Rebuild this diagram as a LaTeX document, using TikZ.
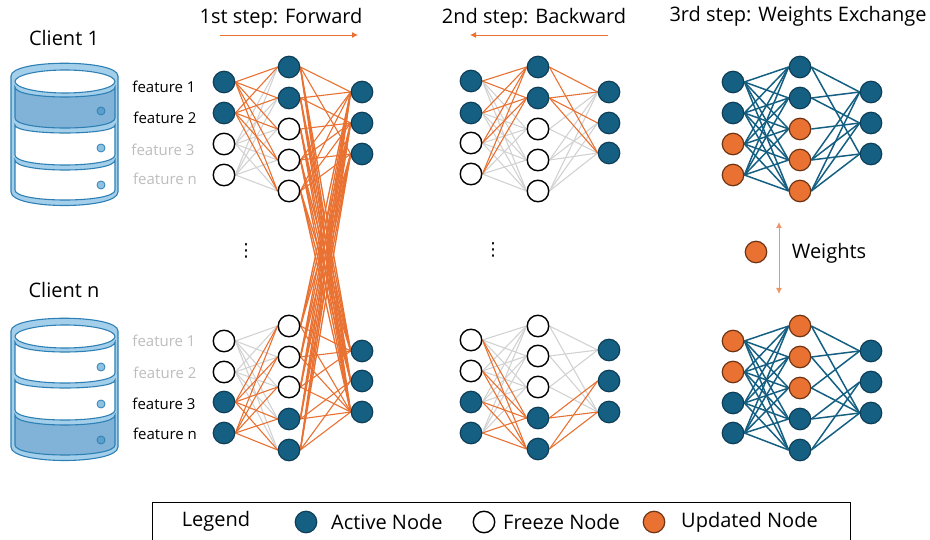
\documentclass[tikz,border=0pt]{standalone}
\usepackage{fontspec}
\setmainfont{Open Sans}
\newfontfamily\dejavu{DejaVu Sans}
\usetikzlibrary{arrows.meta}
\pgfdeclarelayer{edgelayer}
\pgfsetlayers{edgelayer,main}
\definecolor{teal1}{HTML}{156082}
\definecolor{tealdark}{HTML}{0F3F58}
\definecolor{orng}{HTML}{E97132}
\definecolor{orngdark}{HTML}{6E3414}
\definecolor{gry}{HTML}{D2D2D2}
\definecolor{lbl}{HTML}{BDBDBD}
\definecolor{cborder}{HTML}{2E80B4}
\definecolor{cband}{HTML}{A3CFEB}
\definecolor{cfill}{HTML}{80B3D7}
\definecolor{cdot}{HTML}{8DC2E3}
\definecolor{cdotd}{HTML}{5C9FCC}
\tikzset{
  nodebase/.style={circle,minimum size=21.5pt,inner sep=0pt,line width=1.2pt},
  act/.style={nodebase,draw=tealdark,fill=teal1},
  frz/.style={nodebase,draw=black,fill=white,line width=1.4pt},
  upd/.style={nodebase,draw=orngdark,fill=orng},
  og/.style={draw=orng,line width=1.1pt},
  ogx/.style={draw=orng,line width=1.35pt},
  gy/.style={draw=gry,line width=1.1pt},
  tl/.style={draw=teal1,line width=1.5pt},
  title/.style={font=\fontsize{20}{24}\selectfont,text=black,inner sep=0pt},
  feat/.style={font=\fontsize{15}{18}\selectfont,text=black,inner sep=0pt},
  featg/.style={feat,text=lbl},
  stepar/.style={draw=orng,line width=0.9pt,-{Latex[length=6pt,width=6pt]}},
  wgtar/.style={draw=orng!75!white,line width=1pt,{Latex[length=6pt,width=6pt]}-{Latex[length=6pt,width=6pt]}},
  cyledge/.style={draw=cborder,line width=1.1pt},
  cdotst/.style={circle,minimum size=8pt,inner sep=0pt,draw=cborder,line width=0.8pt,fill=cdot},
  cdotfi/.style={cdotst,fill=cdotd},
  vd/.style={font=\dejavu\fontsize{18}{20}\selectfont,inner sep=0pt},
}
% a net: name, three x, three lists y/style
\newcommand\netw[7]{%
  \foreach \i/\yy/\st in {#5}{\node[\st] (#1a\i) at (#2,\yy) {};}
  \foreach \i/\yy/\st in {#6}{\node[\st] (#1b\i) at (#3,\yy) {};}
  \foreach \i/\yy/\st in {#7}{\node[\st] (#1c\i) at (#4,\yy) {};}
}
\newcommand\links[5]{\foreach \p in {#2}{\foreach \q in {#4}{\draw[#5] (#1\p.east) -- (#3\q.west);}}}
\newcommand\pairs[4]{\foreach \p/\q in #3{\draw[#4] (#1\p.east) -- (#2\q.west);}}
\newcommand\cylbody[2]{%
 \begin{scope}[shift={(0,#1)}]
  \path[cyledge,fill=cband] (11,76) .. controls (11,59) and (118,59) .. (118,76) -- (118,192) .. controls (118,210) and (11,210) .. (11,192) -- cycle;
  \foreach \n/\ta/\tb/\ba/\bb in {1/87/97/118/128,2/125/133/155/165,3/160/170/190/200}{
    \pgfmathsetmacro\cta{\ta+(\tb-\ta)*4/3}
    \pgfmathsetmacro\cba{\ba+(\bb-\ba)*4/3}
    \ifnum\n=#2\def\pf{cfill}\else\def\pf{white}\fi
    \path[cyledge,fill=\pf] (15,\ta) .. controls (15,\cta) and (115,\cta) .. (115,\ta) -- (115,\ba) .. controls (115,\cba) and (15,\cba) .. (15,\ba) -- cycle;
  }
  \path[cyledge,fill=white] (65,81.5) ellipse [x radius=50,y radius=11.5];
 \end{scope}}
\def\toppairs{1/1,1/3,2/1,2/2,3/2,4/1,4/2,4/3,5/1,5/2,5/3}
\def\botpairs{1/1,1/3,2/1,2/3,3/1,3/3,4/2,4/3,5/2,5/3}
\def\cgrey{3/1,3/3,4/1,4/2,4/3,5/1,5/2,5/3}
\def\corng{1/1,1/3,2/1,2/2,2/3}
\def\dgrey{1/1,1/3,2/1,2/3,3/1,3/3}
\def\dorng{4/2,4/3,5/2,5/3}
\begin{document}
\begin{tikzpicture}[x=1pt,y=-1pt]
\useasboundingbox (0,0) rectangle (930,540);
% clients
\cylbody{0}{1}
\cylbody{255}{3}
\node[cdotfi] (d11) at (101,111) {};
\node[cdotst] (d12) at (101,148) {};
\node[cdotst] (d13) at (101,185) {};
\node[cdotst] (d21) at (101,367) {};
\node[cdotst] (d22) at (101,404) {};
\node[cdotfi] (d23) at (101,440) {};
\node[title] (cl1) at (64,38) {Client 1};
\node[title] (cln) at (64,290) {Client n};
% feature labels
\node[feat] (f1) at (164,87) {feature 1};
\node[feat] (f2) at (165,118) {feature 2};
\node[featg] (f3) at (163,150) {feature 3};
\node[featg] (f4) at (165,179) {feature n};
\node[featg] (g1) at (164,341) {feature 1};
\node[featg] (g2) at (165,373) {feature 2};
\node[feat] (g3) at (164,404) {feature 3};
\node[feat] (g4) at (165,434) {feature n};
% titles
\node[title] (t1) at (281,18) {1st step: Forward};
\node[title] (t2) at (534,18) {2nd step: Backward};
\node[title] (t3) at (798,16) {3rd step: Weights Exchange};
\coordinate (a1s) at (220,35); \coordinate (a1e) at (358,35);
\coordinate (a2s) at (608,35); \coordinate (a2e) at (470,35);
\coordinate (a3s) at (779,222); \coordinate (a3e) at (779,294);
\draw[stepar] (a1s) -- (a1e);
\draw[stepar] (a2s) -- (a2e);
\draw[wgtar] (a3s) -- (a3e);
\node[vd] (v1) at (246,251) {⋮};
\node[vd] (v2) at (493,250) {⋮};
\node[upd] (wn) at (756,252) {};
\node[title] (wt) at (829,253) {Weights};
% networks
\netw{A}{224}{289}{362}{1/82/act,2/113/act,3/144/frz,4/175/frz}{1/67/act,2/98/act,3/129/frz,4/160/frz,5/191/frz}{1/92/act,2/123/act,3/154/act}
\netw{B}{224}{289}{362}{1/341/frz,2/372/frz,3/402/act,4/433/act}{1/326/frz,2/357/frz,3/387/frz,4/419/act,5/450/act}{1/351/act,2/381/act,3/412/act}
\netw{C}{471}{538}{609}{1/81/act,2/113/act,3/143/frz,4/174/frz}{1/67/act,2/98/act,3/129/frz,4/160/frz,5/191/frz}{1/92/act,2/123/act,3/153/act}
\netw{D}{471}{538}{609}{1/340/frz,2/371/frz,3/402/act,4/433/act}{1/326/frz,2/356/frz,3/387/frz,4/418/act,5/449/act}{1/350/act,2/381/act,3/412/act}
\netw{E}{733}{800}{871}{1/82/act,2/113/act,3/144/upd,4/175/upd}{1/67/act,2/98/act,3/129/upd,4/160/upd,5/191/upd}{1/92/act,2/123/act,3/154/act}
\netw{F}{733}{800}{871}{1/341/upd,2/372/upd,3/403/act,4/433/act}{1/326/upd,2/357/upd,3/388/upd,4/419/act,5/450/act}{1/351/act,2/382/act,3/413/act}
\begin{pgfonlayer}{edgelayer}
% net A and B
\links{Aa}{3,4}{Ab}{1,2,3,4,5}{gy}
\links{Ba}{1,2}{Bb}{1,2,3,4,5}{gy}
\links{Aa}{1,2}{Ab}{1,2,3,4,5}{og}
\links{Ba}{3,4}{Bb}{1,2,3,4,5}{og}
\pairs{Ab}{Ac}{\toppairs}{og}
\pairs{Bb}{Bc}{\botpairs}{og}
\links{Ab}{1,2,3,4,5}{Bc}{1,2,3}{ogx}
\links{Bb}{1,2,3,4,5}{Ac}{1,2,3}{ogx}
% net C
\links{Ca}{1,2,3,4}{Cb}{3,4,5}{gy}
\pairs{Cb}{Cc}{\cgrey}{gy}
\links{Ca}{1,2,3,4}{Cb}{1,2}{og}
\pairs{Cb}{Cc}{\corng}{og}
% net D
\links{Da}{1,2,3,4}{Db}{1,2,3}{gy}
\pairs{Db}{Dc}{\dgrey}{gy}
\links{Da}{1,2,3,4}{Db}{4,5}{og}
\pairs{Db}{Dc}{\dorng}{og}
% net E and F
\links{Ea}{1,2,3,4}{Eb}{1,2,3,4,5}{tl}
\pairs{Eb}{Ec}{\toppairs}{tl}
\links{Fa}{1,2,3,4}{Fb}{1,2,3,4,5}{tl}
\pairs{Fb}{Fc}{\botpairs}{tl}
\end{pgfonlayer}
% legend
\coordinate (lb1) at (152,540); \coordinate (lb2) at (152,502); \coordinate (lb3) at (850,502); \coordinate (lb4) at (850,540);
\draw[black,line width=0.9pt] (lb1) -- (lb2) -- (lb3) -- (lb4);
\node[title] (lg) at (216,521) {Legend};
\node[act] (l1) at (306,522) {};
\node[title,anchor=west] (l1t) at (331,522) {Active Node};
\node[frz] (l2) at (484,522) {};
\node[title,anchor=west] (l2t) at (503,522) {Freeze Node};
\node[upd] (l3) at (654,522) {};
\node[title,anchor=west] (l3t) at (681,522) {Updated Node};
\end{tikzpicture}
\end{document}
